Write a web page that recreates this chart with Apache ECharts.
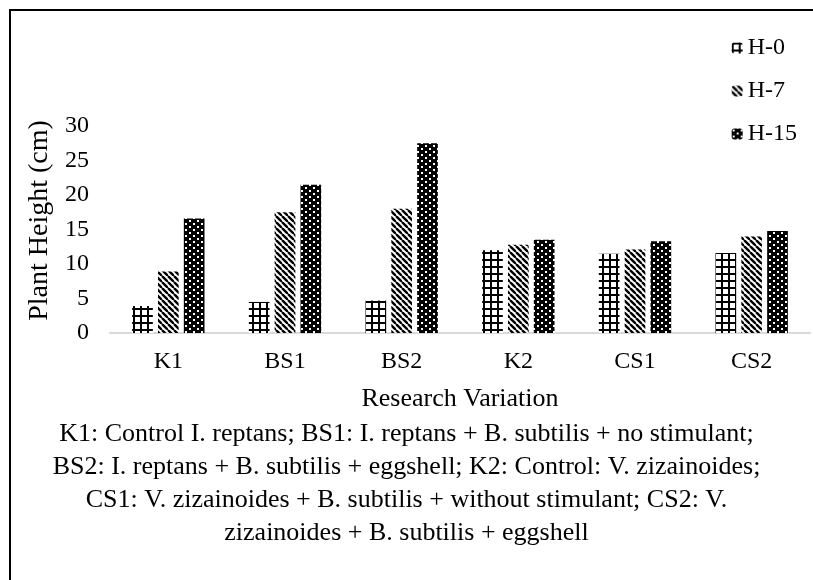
<!DOCTYPE html>
<html>
<head>
<meta charset="utf-8">
<script src="https://cdn.jsdelivr.net/npm/echarts@6/dist/echarts.min.js"></script>
<style>
  body { margin: 0; background: #fff; }
  #main { width: 813px; height: 580px; }
</style>
</head>
<body>
<div id="main"></div>
<script>
var categories = ['K1', 'BS1', 'BS2', 'K2', 'CS1', 'CS2'];
var seriesNames = ['H-0', 'H-7', 'H-15'];
var h0 = [3.9, 4.5, 4.7, 12.0, 11.5, 11.6];
var h7 = [8.9, 17.5, 18.0, 12.8, 12.1, 14.0];
var h15 = [16.6, 21.5, 27.5, 13.5, 13.3, 14.8];
var caption = [
  'K1: Control I. reptans; BS1: I. reptans + B. subtilis + no stimulant;',
  'BS2: I. reptans + B. subtilis + eggshell; K2: Control: V. zizainoides;',
  'CS1: V. zizainoides + B. subtilis + without stimulant; CS2: V.',
  'zizainoides + B. subtilis + eggshell'
];

var font = '"Liberation Serif", "Times New Roman", serif';

// 网格图案
function gridPattern() {
  var c = document.createElement('canvas');
  c.width = 7; c.height = 7;
  var g = c.getContext('2d');
  g.fillStyle = '#fff'; g.fillRect(0, 0, 7, 7);
  g.fillStyle = '#000';
  g.fillRect(0, 0, 7, 2);
  g.fillRect(0, 0, 2, 7);
  return c;
}
// 斜线图案
function stripePattern() {
  var c = document.createElement('canvas');
  c.width = 6; c.height = 6;
  var g = c.getContext('2d');
  g.fillStyle = '#fff'; g.fillRect(0, 0, 6, 6);
  g.strokeStyle = '#000'; g.lineWidth = 2.4;
  for (var k = -6; k <= 6; k += 6) {
    g.beginPath();
    g.moveTo(k, 0);
    g.lineTo(k + 6, 6);
    g.stroke();
  }
  return c;
}
// 点状图案
function dotPattern() {
  var c = document.createElement('canvas');
  c.width = 8; c.height = 6;
  var g = c.getContext('2d');
  g.fillStyle = '#000'; g.fillRect(0, 0, 8, 6);
  g.fillStyle = '#fff';
  g.fillRect(1, 1, 2, 2);
  g.fillRect(5, 4, 2, 2);
  return c;
}

var patterns = [gridPattern(), stripePattern(), dotPattern()];
var values = [h0, h7, h15];

var chart = echarts.init(document.getElementById('main'));

var series = [];
for (var i = 0; i < seriesNames.length; i++) {
  series.push({
    name: seriesNames[i],
    type: 'bar',
    data: values[i],
    barGap: '25%',
    barCategoryGap: '38%',
    itemStyle: {
      color: { image: patterns[i], repeat: 'repeat' }
    }
  });
}

var option = {
  backgroundColor: '#fff',
  animation: false,
  textStyle: { fontFamily: font },
  graphic: [
    {
      type: 'rect',
      shape: { x: 10, y: 10, width: 830, height: 600 },
      style: { fill: 'none', stroke: '#000', lineWidth: 2 }
    },
    {
      type: 'text',
      left: 'center',
      top: 418,
      style: {
        text: caption.join('\n'),
        font: '26px ' + font,
        fill: '#000',
        textAlign: 'center',
        lineHeight: 33
      }
    }
  ],
  legend: {
    orient: 'vertical',
    right: 11,
    top: 31,
    itemWidth: 11,
    itemHeight: 11,
    itemGap: 19,
    textStyle: { fontFamily: font, fontSize: 24, color: '#000' },
    data: seriesNames
  },
  grid: { left: 110, right: 3, top: 126, bottom: 247 },
  xAxis: {
    type: 'category',
    data: categories,
    name: 'Research Variation',
    nameLocation: 'middle',
    nameGap: 53,
    nameTextStyle: { fontFamily: font, fontSize: 26, color: '#000' },
    axisLine: { lineStyle: { color: '#d9d9d9', width: 2 } },
    axisTick: { show: false },
    axisLabel: { fontFamily: font, fontSize: 24, color: '#000', margin: 17 }
  },
  yAxis: {
    type: 'value',
    min: 0,
    max: 30,
    interval: 5,
    name: 'Plant Height (cm)',
    nameLocation: 'middle',
    nameGap: 51,
    nameTextStyle: { fontFamily: font, fontSize: 28, color: '#000', padding: [0, 0, 0, 18] },
    axisLine: { show: false },
    axisTick: { show: false },
    splitLine: { show: false },
    axisLabel: { fontFamily: font, fontSize: 24, color: '#000', margin: 21 }
  },
  series: series
};

chart.setOption(option);
</script>
</body>
</html>
